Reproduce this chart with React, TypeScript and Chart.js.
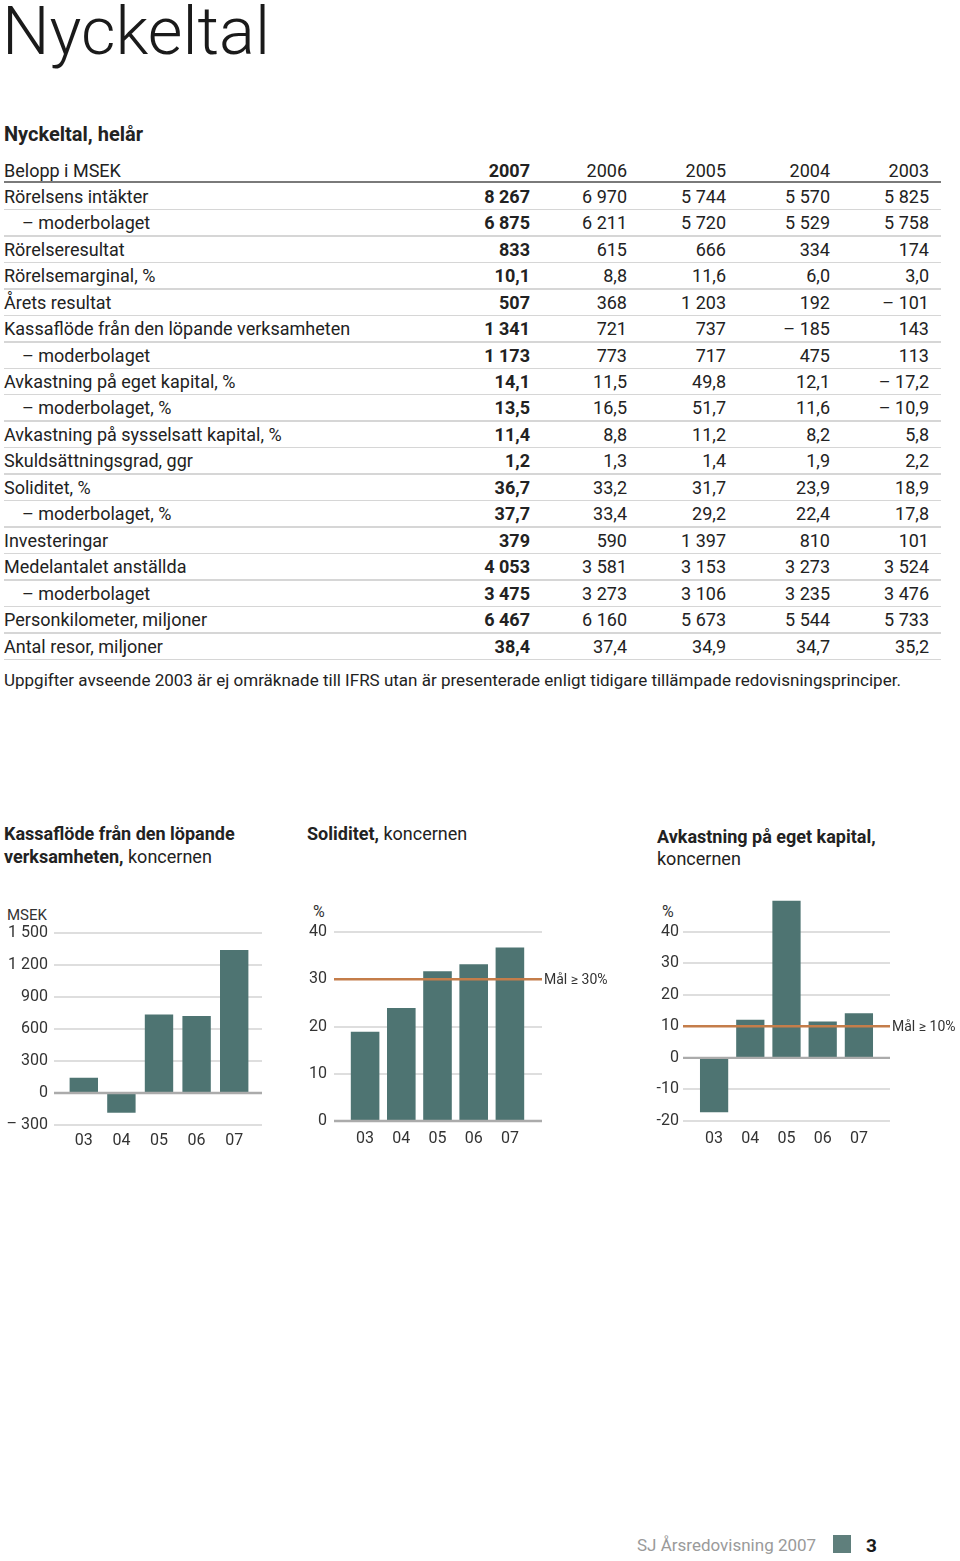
import React, { useEffect, useRef } from "react";
import { Chart, registerables } from "chart.js";
Chart.register(...registerables);

const FONT = "Roboto, 'Noto Sans', 'DejaVu Sans', sans-serif";
const BAR = "#4e7472";
const ORANGE = "#c47d4a";

// ---------- table data ----------
const yearHeaders = ["2007", "2006", "2005", "2004", "2003"];
const rowLabels = [
  "Rörelsens intäkter",
  "– moderbolaget",
  "Rörelseresultat",
  "Rörelsemarginal, %",
  "Årets resultat",
  "Kassaflöde från den löpande verksamheten",
  "– moderbolaget",
  "Avkastning på eget kapital, %",
  "– moderbolaget, %",
  "Avkastning på sysselsatt kapital, %",
  "Skuldsättningsgrad, ggr",
  "Soliditet, %",
  "– moderbolaget, %",
  "Investeringar",
  "Medelantalet anställda",
  "– moderbolaget",
  "Personkilometer, miljoner",
  "Antal resor, miljoner",
];
const y2007 = ["8 267", "6 875", "833", "10,1", "507", "1 341", "1 173", "14,1", "13,5", "11,4", "1,2", "36,7", "37,7", "379", "4 053", "3 475", "6 467", "38,4"];
const y2006 = ["6 970", "6 211", "615", "8,8", "368", "721", "773", "11,5", "16,5", "8,8", "1,3", "33,2", "33,4", "590", "3 581", "3 273", "6 160", "37,4"];
const y2005 = ["5 744", "5 720", "666", "11,6", "1 203", "737", "717", "49,8", "51,7", "11,2", "1,4", "31,7", "29,2", "1 397", "3 153", "3 106", "5 673", "34,9"];
const y2004 = ["5 570", "5 529", "334", "6,0", "192", "– 185", "475", "12,1", "11,6", "8,2", "1,9", "23,9", "22,4", "810", "3 273", "3 235", "5 544", "34,7"];
const y2003 = ["5 825", "5 758", "174", "3,0", "– 101", "143", "113", "– 17,2", "– 10,9", "5,8", "2,2", "18,9", "17,8", "101", "3 524", "3 476", "5 733", "35,2"];
const yearColumns = [y2007, y2006, y2005, y2004, y2003];

// ---------- chart data ----------
const chartYears = ["03", "04", "05", "06", "07"];
const cashflow = [143, -185, 737, 721, 1341];
const solidity = [18.9, 23.9, 31.7, 33.2, 36.7];
const roe = [-17.2, 12.1, 49.8, 11.5, 14.1];
const solidityTarget = 30;
const roeTarget = 10;

const extPlugin = {
  id: "ext",
  beforeDatasetsDraw(chart: any, _a: any, o: any) {
    const { ctx, chartArea: ca } = chart;
    const ys = chart.scales.y;
    ctx.save();
    ys.ticks.forEach((t: any) => {
      if (t.value === 0 || t.value > o.gridMax) return;
      const py = Math.round(ys.getPixelForValue(t.value));
      ctx.strokeStyle = "#d3d3d3";
      ctx.lineWidth = 1.4;
      ctx.beginPath();
      ctx.moveTo(ca.left - o.extL, py);
      ctx.lineTo(ca.right + o.extR, py);
      ctx.stroke();
    });
    ctx.restore();
  },
  afterDatasetsDraw(chart: any, _a: any, o: any) {
    const { ctx, chartArea: ca } = chart;
    const ys = chart.scales.y;
    ctx.save();
    const pz = ys.getPixelForValue(0);
    ctx.strokeStyle = "#ababab";
    ctx.lineWidth = 2.4;
    ctx.beginPath();
    ctx.moveTo(ca.left - o.extL, pz);
    ctx.lineTo(ca.right + o.extR, pz);
    ctx.stroke();
    if (o.target !== undefined) {
      const pt = ys.getPixelForValue(o.target);
      ctx.strokeStyle = ORANGE;
      ctx.lineWidth = 2.4;
      ctx.beginPath();
      ctx.moveTo(ca.left - o.extL, pt);
      ctx.lineTo(ca.right + o.extR, pt);
      ctx.stroke();
      ctx.fillStyle = "#333";
      ctx.font = `14px ${FONT}`;
      ctx.textAlign = "left";
      ctx.textBaseline = "middle";
      ctx.fillText(o.targetLabel, ca.right + o.extR + 2, pt + 1);
    }
    ctx.restore();
  },
};

type CP = {
  data: number[];
  min: number;
  max: number;
  step: number;
  tickMax: number;
  yWidth: number;
  yPad: number;
  xHeight: number;
  xPad: number;
  top: number;
  right: number;
  barPct: number;
  extL: number;
  extR: number;
  gridMax: number;
  target?: number;
  targetLabel?: string;
  fmt: (v: number) => string;
};

function BarChart(props: { w: number; h: number; left: number; top: number; p: CP }) {
  const ref = useRef<HTMLCanvasElement>(null);
  useEffect(() => {
    const p = props.p;
    const chart = new Chart(ref.current as HTMLCanvasElement, {
      type: "bar",
      data: {
        labels: chartYears,
        datasets: [
          {
            data: p.data,
            backgroundColor: BAR,
            borderWidth: 0,
            categoryPercentage: 1,
            barPercentage: p.barPct,
          },
        ],
      },
      options: {
        responsive: false,
        animation: false,
        devicePixelRatio: 1,
        layout: { padding: { left: 0, right: p.right, top: p.top, bottom: 0 } },
        plugins: {
          legend: { display: false },
          tooltip: { enabled: false },
          ext: { extL: p.extL, extR: p.extR, gridMax: p.gridMax, target: p.target, targetLabel: p.targetLabel },
        } as any,
        scales: {
          x: {
            grid: { display: false, drawTicks: false },
            border: { display: false },
            ticks: { color: "#333", font: { family: FONT, size: 16 }, padding: p.xPad, maxRotation: 0, autoSkip: false },
            afterFit: (s: any) => {
              s.height = p.xHeight;
            },
          },
          y: {
            min: p.min,
            max: p.max,
            grid: {
              display: true,
              drawOnChartArea: false,
              drawTicks: true,
              tickLength: p.yPad,
              color: "rgba(0,0,0,0)",
            },
            border: { display: false },
            ticks: {
              stepSize: p.step,
              color: "#333",
              font: { family: FONT, size: 16 },
              padding: 0,
              callback: (v: any) => p.fmt(Number(v)),
            },
            afterBuildTicks: (s: any) => {
              s.ticks = s.ticks.filter((t: any) => t.value <= p.tickMax);
            },
            afterFit: (s: any) => {
              s.width = p.yWidth;
            },
          },
        },
      },
      plugins: [extPlugin as any],
    });
    return () => chart.destroy();
  }, []);
  return (
    <canvas
      ref={ref}
      width={props.w}
      height={props.h}
      style={{ position: "absolute", left: props.left, top: props.top, width: props.w, height: props.h }}
    />
  );
}

function T(props: {
  x: number;
  cy: number;
  size: number;
  text: React.ReactNode;
  weight?: number;
  color?: string;
  align?: "left" | "right";
  lh?: number;
}) {
  const lh = props.lh ?? props.size;
  const style: React.CSSProperties = {
    position: "absolute",
    top: props.cy - lh / 2,
    fontSize: props.size,
    lineHeight: `${lh}px`,
    fontWeight: props.weight ?? 400,
    color: props.color ?? "#222",
    whiteSpace: "nowrap",
    fontFamily: FONT,
  };
  if (props.align === "right") style.right = 960 - props.x;
  else style.left = props.x;
  return <div style={style}>{props.text}</div>;
}

const colRight = [530, 627, 726, 830, 929];
const ROW0 = 196.7;
const ROWH = 26.47;
const TS = 18;

const fmtThousands = (v: number) => {
  const a = Math.abs(v);
  const s = a >= 1000 ? `${Math.floor(a / 1000)} ${String(a % 1000).padStart(3, "0")}` : String(a);
  return v < 0 ? `– ${s}` : s;
};

export default function App() {
  const rows = rowLabels.map((lab, i) => {
    const cy = ROW0 + i * ROWH;
    const indent = lab.startsWith("–");
    return (
      <React.Fragment key={i}>
        <T x={indent ? 22 : 4} cy={cy} size={TS} text={lab} />
        {yearColumns.map((col, j) => (
          <T key={j} x={colRight[j]} cy={cy} size={TS} text={col[i]} align="right" weight={j === 0 ? 700 : 400} />
        ))}
        <div
          style={{
            position: "absolute",
            left: 4,
            width: 937,
            top: cy + 12,
            height: 1.5,
            background: "#d6d6d6",
          }}
        />
      </React.Fragment>
    );
  });

  return (
    <div
      style={{
        position: "absolute",
        left: 0,
        top: 0,
        width: 960,
        height: 1561,
        background: "#fff",
        overflow: "hidden",
        fontFamily: FONT,
      }}
    >
      <T x={2} cy={31} size={67} lh={50} weight={300} color="#1a1a1a" text="Nyckeltal" />
      <T x={4} cy={134} size={20} weight={700} text="Nyckeltal, helår" />

      <T x={4} cy={170.5} size={TS} text="Belopp i MSEK" />
      {yearHeaders.map((y, j) => (
        <T key={y} x={colRight[j]} cy={170.5} size={TS} text={y} align="right" weight={j === 0 ? 700 : 400} />
      ))}
      <div style={{ position: "absolute", left: 4, width: 937, top: 180.5, height: 2, background: "#7a7a7a" }} />
      {rows}

      <T
        x={4}
        cy={680}
        size={17}
        text="Uppgifter avseende 2003 är ej omräknade till IFRS utan är presenterade enligt tidigare tillämpade redovisningsprinciper."
      />

      {/* chart titles */}
      <T x={4} cy={834} size={18} weight={700} text="Kassaflöde från den löpande" />
      <T
        x={4}
        cy={857}
        size={18}
        text={
          <>
            <b>verksamheten,</b> koncernen
          </>
        }
      />
      <T
        x={307}
        cy={834}
        size={18}
        text={
          <>
            <b>Soliditet,</b> koncernen
          </>
        }
      />
      <T x={657} cy={837} size={18} weight={700} text="Avkastning på eget kapital," />
      <T x={657} cy={859} size={18} text="koncernen" />

      <T x={7} cy={915} size={15} color="#333" text="MSEK" />
      <T x={313} cy={912} size={16} color="#333" text="%" />
      <T x={662} cy={912} size={16} color="#333" text="%" />

      <BarChart
        w={300}
        h={270}
        left={0}
        top={890}
        p={{
          data: cashflow,
          min: -300,
          max: 1500,
          step: 300,
          tickMax: 1500,
          yWidth: 65,
          yPad: 17,
          xHeight: 35,
          xPad: 6,
          top: 43,
          right: 47,
          barPct: 0.755,
          extL: 11,
          extR: 9,
          gridMax: 1500,
          fmt: fmtThousands,
        }}
      />
      <BarChart
        w={330}
        h={270}
        left={300}
        top={890}
        p={{
          data: solidity,
          min: 0,
          max: 40,
          step: 10,
          tickMax: 40,
          yWidth: 47,
          yPad: 20,
          xHeight: 39,
          xPad: 8,
          top: 42,
          right: 102,
          barPct: 0.79,
          extL: 13,
          extR: 14,
          gridMax: 40,
          target: solidityTarget,
          targetLabel: "Mål ≥ 30%",
          fmt: (v) => String(v),
        }}
      />
      <BarChart
        w={320}
        h={270}
        left={640}
        top={890}
        p={{
          data: roe,
          min: -20,
          max: 50,
          step: 10,
          tickMax: 40,
          yWidth: 56,
          yPad: 17,
          xHeight: 39,
          xPad: 8,
          top: 10,
          right: 83,
          barPct: 0.78,
          extL: 13,
          extR: 13,
          gridMax: 40,
          target: roeTarget,
          targetLabel: "Mål ≥ 10%",
          fmt: (v) => String(v),
        }}
      />

      {/* footer */}
      <T x={637} cy={1545} size={17} color="#9a9a9a" text="SJ Årsredovisning 2007" />
      <div style={{ position: "absolute", left: 833, top: 1535, width: 18, height: 18, background: "#5f7f7c" }} />
      <T x={866} cy={1545} size={19} weight={700} color="#1a1a1a" text="3" />
    </div>
  );
}
